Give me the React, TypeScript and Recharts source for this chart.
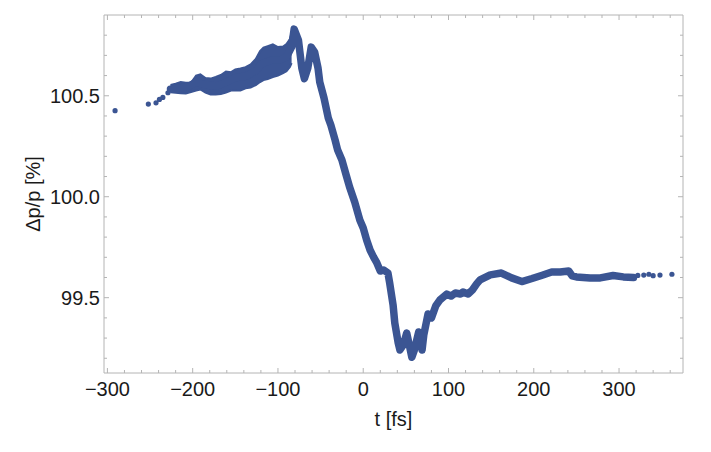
import { Area, ComposedChart, Label, Line, Scatter, XAxis, YAxis } from "recharts";

// time axis [fs] and relative momentum [%]
const lineT = [
  -226, -216, -204, -196, -184, -172, -160, -151, -137, -125, -120, -107, -97, -90, -84, -81, -76, -72, -69, -65,
  -61, -57, -53, -51, -46, -41, -38, -33, -30, -25, -20, -16, -10, -4, 0, 4, 8, 12, 16, 20, 24, 29, 31, 35, 37, 41,
  43, 47, 51, 54, 57, 60, 65, 67, 69, 71, 76, 80, 85, 90, 98, 103, 108, 114, 117, 123, 128, 133, 137, 149, 162, 174,
  186, 198, 209, 221, 231, 241, 245, 250, 266, 278, 293, 305, 317,
];
const lineV = [
  100.533, 100.538, 100.548, 100.568, 100.553, 100.548, 100.568, 100.588, 100.598, 100.627, 100.657, 100.677, 100.677,
  100.692, 100.741, 100.83, 100.776, 100.637, 100.585, 100.637, 100.741, 100.716, 100.637, 100.568, 100.489, 100.39,
  100.355, 100.281, 100.231, 100.182, 100.107, 100.048, 99.974, 99.885, 99.845, 99.786, 99.736, 99.702, 99.672, 99.632,
  99.637, 99.622, 99.573, 99.464, 99.375, 99.276, 99.241, 99.266, 99.325, 99.266, 99.205, 99.241, 99.33, 99.291,
  99.241, 99.315, 99.419, 99.4, 99.459, 99.489, 99.518, 99.508, 99.523, 99.518, 99.528, 99.518, 99.538, 99.568, 99.588,
  99.613, 99.622, 99.598, 99.58, 99.595, 99.61, 99.627, 99.627, 99.632, 99.608, 99.603, 99.598, 99.598, 99.61, 99.603,
  99.6,
];

// noisy spread before time zero
const bandT = [
  -226, -220, -214, -208, -202, -196, -191, -185, -179, -173, -167, -161, -155, -150, -144, -138, -132, -126, -121,
  -117, -112, -106, -100, -94, -90, -86, -84,
];
const bandLo = [
  100.518, 100.515, 100.512, 100.511, 100.518, 100.526, 100.531, 100.516, 100.506, 100.506, 100.509, 100.516, 100.526,
  100.527, 100.526, 100.537, 100.541, 100.553, 100.568, 100.578, 100.583, 100.593, 100.6, 100.612, 100.622, 100.642,
  100.662,
];
const bandHi = [
  100.553, 100.56, 100.568, 100.565, 100.564, 100.6, 100.606, 100.588, 100.585, 100.593, 100.603, 100.62, 100.617,
  100.63, 100.635, 100.642, 100.655, 100.682, 100.721, 100.739, 100.746, 100.755, 100.741, 100.744, 100.756, 100.781,
  100.81,
];

// sparse single shots at both ends
const dotT = [-291, -252, -243, -239, -235, -229, 322, 329, 335, 340, 348, 362];
const dotV = [100.426, 100.459, 100.465, 100.482, 100.492, 100.515, 99.61, 99.612, 99.616, 99.609, 99.612, 99.616];

const xMajor = [-300, -200, -100, 0, 100, 200, 300];
const xTicks = [
  -300, -280, -260, -240, -220, -200, -180, -160, -140, -120, -100, -80, -60, -40, -20, 0, 20, 40, 60, 80, 100, 120,
  140, 160, 180, 200, 220, 240, 260, 280, 300, 320, 340, 360,
];
const yMajor = [99.5, 100, 100.5];
const yTicks = [
  99.2, 99.3, 99.4, 99.5, 99.6, 99.7, 99.8, 99.9, 100, 100.1, 100.2, 100.3, 100.4, 100.5, 100.6, 100.7, 100.8,
];

const lineData = lineT.map((t, i) => ({ t, v: lineV[i] }));
const bandData = bandT.map((t, i) => ({ t, range: [bandLo[i], bandHi[i]] }));
const dotData = dotT.map((t, i) => ({ t, v: dotV[i] }));

const blue = "#3b5593";
const frame = "#b4b4b4";
const font = "'Liberation Sans', Arial, sans-serif";

function XTick(props: any) {
  const { x, y, payload, top } = props;
  const v = payload.value;
  const major = xMajor.includes(v);
  const len = major ? 5 : 3;
  return (
    <g>
      <line x1={x} x2={x} y1={y} y2={top ? y + len : y - len} stroke={frame} />
      {!top && major && (
        <text x={x} y={y + 16} dy="0.36em" textAnchor="middle" fontSize={20} fontFamily={font} fill="#1a1a1a">
          {String(v).replace("-", "\u2212")}
        </text>
      )}
    </g>
  );
}

function YTick(props: any) {
  const { x, y, payload, right } = props;
  const v = payload.value;
  const major = yMajor.includes(v);
  const len = major ? 5 : 3;
  return (
    <g>
      <line x1={x} x2={right ? x - len : x + len} y1={y} y2={y} stroke={frame} />
      {!right && major && (
        <text x={x - 4} y={y} dy="0.36em" textAnchor="end" fontSize={20} fontFamily={font} fill="#1a1a1a">
          {v.toFixed(1)}
        </text>
      )}
    </g>
  );
}

export default function App() {
  return (
    <div style={{ width: 703, height: 444 }}>
      <ComposedChart width={703} height={444} margin={{ top: 6, right: 27, bottom: 0, left: 0 }}>
        <XAxis
          xAxisId="b"
          type="number"
          dataKey="t"
          domain={[-304, 375]}
          allowDataOverflow
          ticks={xTicks}
          interval={0}
          height={79}
          tickSize={0}
          tickMargin={0}
          stroke={frame}
          tick={<XTick />}
        >
          <Label value="t [fs]" position="insideBottom" offset={26} fontSize={20} fontFamily={font} fill="#1a1a1a" />
        </XAxis>
        <XAxis
          xAxisId="t"
          orientation="top"
          type="number"
          dataKey="t"
          domain={[-304, 375]}
          allowDataOverflow
          ticks={xTicks}
          interval={0}
          height={1}
          tickSize={0}
          tickMargin={0}
          stroke={frame}
          tick={<XTick top />}
        />
        <YAxis
          yAxisId="l"
          type="number"
          domain={[99.127, 100.9]}
          allowDataOverflow
          ticks={yTicks}
          interval={0}
          width={96}
          tickSize={0}
          tickMargin={0}
          stroke={frame}
          tick={<YTick />}
        >
          <Label
            content={({ viewBox }: any) => {
              const cx = viewBox.x + 25;
              const cy = viewBox.y + viewBox.height / 2;
              return (
                <text
                  x={cx}
                  y={cy}
                  transform={`rotate(-90 ${cx} ${cy})`}
                  textAnchor="middle"
                  dominantBaseline="central"
                  fontSize={20}
                  fontFamily={font}
                  fill="#1a1a1a"
                >
                  Δp/p [%]
                </text>
              );
            }}
          />
        </YAxis>
        <YAxis
          yAxisId="r"
          orientation="right"
          type="number"
          domain={[99.127, 100.9]}
          allowDataOverflow
          ticks={yTicks}
          interval={0}
          width={1}
          tickSize={0}
          tickMargin={0}
          stroke={frame}
          tick={<YTick right />}
        />
        {/* invisible copy so the mirrored frame axes get drawn */}
        <Line
          xAxisId="t"
          yAxisId="r"
          data={lineData}
          dataKey="v"
          stroke="none"
          dot={false}
          activeDot={false}
          isAnimationActive={false}
        />
        <Area
          xAxisId="b"
          yAxisId="l"
          data={bandData}
          dataKey="range"
          type="linear"
          stroke={blue}
          strokeWidth={2}
          fill={blue}
          fillOpacity={1}
          isAnimationActive={false}
          dot={false}
          activeDot={false}
        />
        <Line
          xAxisId="b"
          yAxisId="l"
          data={lineData}
          dataKey="v"
          type="linear"
          stroke={blue}
          strokeWidth={7.5}
          strokeLinejoin="round"
          strokeLinecap="round"
          dot={false}
          activeDot={false}
          isAnimationActive={false}
        />
        <Scatter
          xAxisId="b"
          yAxisId="l"
          data={dotData}
          dataKey="v"
          fill={blue}
          shape={(p: any) => <circle cx={p.cx} cy={p.cy} r={2.6} fill={blue} />}
          isAnimationActive={false}
        />
      </ComposedChart>
    </div>
  );
}
